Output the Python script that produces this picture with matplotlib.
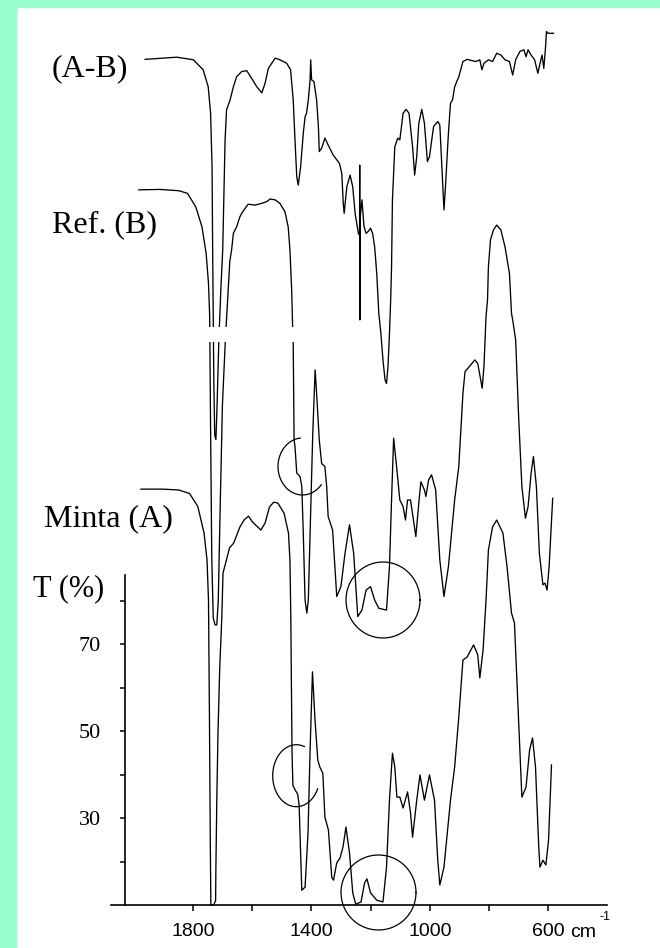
import matplotlib
matplotlib.use("Agg")
import matplotlib.pyplot as plt
from matplotlib.patches import Rectangle
import numpy as np

# ---------------- data (wavenumber cm^-1, transmittance on the common stacked scale) -------------
minta_wn = [1975, 1900, 1847, 1811, 1783, 1762, 1752, 1747, 1744, 1741, 1739, 1730, 1723, 1722, 1719,
            1715, 1709, 1702, 1698, 1676, 1662, 1641, 1627, 1612, 1598, 1570, 1556, 1541, 1527, 1513,
            1492, 1477, 1472, 1469, 1467, 1465, 1462, 1455, 1446, 1441, 1437, 1432, 1421, 1411, 1404,
            1396, 1388, 1378, 1371, 1361, 1354, 1342, 1331, 1325, 1314, 1303, 1293, 1283, 1271, 1260,
            1250, 1232, 1220, 1212, 1200, 1179, 1158, 1146, 1136, 1126, 1118, 1111, 1101, 1090, 1075,
            1065, 1058, 1044, 1033, 1018, 1001, 984, 973, 966, 952, 930, 916, 902, 888, 874, 852, 838,
            831, 820, 810, 802, 788, 774, 753, 739, 724, 714, 703, 689, 675, 663, 653, 643, 632, 628,
            618, 608, 599, 589]
minta_T = [105.6, 105.6, 105.4, 104.6, 101.6, 95.5, 89.3, 80.1, 55.0, 25.0, 10.0, 10.0, 11.0, 18.7, 34.1,
           49.5, 64.7, 76.2, 86.3, 92.1, 93.2, 96.9, 98.5, 99.4, 98.0, 96.2, 97.8, 101.5, 102.6, 102.4,
           100.1, 95.5, 89.3, 75.5, 60.0, 45.0, 37.5, 36.5, 35.5, 33.0, 24.0, 13.4, 14.1, 26.6, 45.6,
           63.6, 53.2, 43.3, 41.7, 40.3, 30.2, 27.2, 16.4, 15.7, 19.7, 20.8, 23.3, 27.9, 22.0, 12.8,
           10.2, 10.7, 15.1, 16.0, 12.8, 11.1, 10.7, 18.7, 34.1, 44.9, 41.7, 34.8, 34.8, 32.3, 36.0,
           31.2, 25.6, 34.1, 39.9, 34.1, 39.9, 34.1, 20.3, 14.6, 18.7, 34.1, 41.7, 53.2, 66.3, 67.0, 69.8, 67.5,
           62.2, 68.6, 80.1, 91.6, 96.9, 98.5, 95.5, 87.7, 77.1, 74.8, 57.1, 34.8, 37.1, 45.6, 48.4, 41.7, 23.3, 18.7,
           20.3, 19.2, 24.9, 42.2]

ref_wn = [1982, 1911, 1847, 1818, 1790, 1769, 1755, 1747, 1743, 1740, 1736, 1731, 1725, 1719, 1714,
          1708, 1700, 1690, 1680, 1675, 1669, 1663, 1652, 1641, 1635, 1624, 1613, 1590, 1567, 1550,
          1539, 1522, 1506, 1489, 1478, 1472, 1466, 1463, 1461, 1458, 1455, 1449, 1438, 1432, 1427,
          1421, 1415, 1410, 1404, 1395, 1387, 1382, 1373, 1365, 1354, 1348, 1343, 1328, 1314, 1300,
          1286, 1271, 1257, 1243, 1229, 1215, 1200, 1186, 1172, 1146, 1136, 1129, 1122, 1112, 1101,
          1090, 1082, 1075, 1065, 1055, 1047, 1037, 1030, 1018, 1013, 1004, 994, 980, 966, 952, 937,
          916, 902, 888, 881, 866, 848, 838, 823, 817, 810, 805, 802, 795, 785, 774, 760, 746, 731,
          724, 720, 710, 700, 689, 677, 668, 658, 650, 640, 630, 618, 611, 604, 597, 585]
ref_T = [174.4, 174.5, 174.2, 173.6, 170.5, 165.9, 159.8, 152.9, 145.3, 120.0, 90.0, 76.0, 74.4, 74.4, 80.0,
         100.0, 125.0, 140.0, 152.0, 158.0, 160.6, 164.4, 165.9, 168.2, 169.0, 170.1, 171.1, 170.9, 171.3, 171.7,
         172.3, 172.1, 171.3, 169.4, 165.9, 160.6, 151.0, 142.9, 139.1, 116.9, 115.4, 109.3, 108.5, 106.2, 95.5,
         80.1, 77.1, 80.1, 95.5, 118.4, 133.0, 127.6, 116.9, 111.5, 110.8, 106.2, 99.3, 96.2, 80.9, 83.2,
         90.9, 97.4, 90.9, 76.3, 77.8, 82.4, 83.2, 80.1, 78.2, 77.8, 87.8, 103.1, 117.3, 110.8, 103.1,
         101.6, 98.5, 103.1, 103.1, 98.5, 94.7, 102.4, 107.3, 105.4, 103.9, 107.7, 108.9, 105.4, 89.3, 80.9, 87.8,
         103.1, 110.8, 127.6, 132.6, 133.8, 135.3, 134.5, 128.8, 133.8, 145.3, 149.1, 156.7, 162.9, 165.2, 166.3, 165.2, 161.3, 155.2,
         146.0, 144.5, 139.9, 122.3, 106.2, 98.9, 101.6, 109.2, 113.1, 106.2, 90.9, 83.6, 84.0, 82.4, 87.8, 103.5]

ab_wn = [1961, 1854, 1798, 1765, 1748, 1740, 1735, 1733, 1729, 1726, 1722, 1718, 1712, 1705, 1699,
         1691, 1686, 1674, 1663, 1652, 1635, 1618, 1601, 1584, 1567, 1556, 1545, 1522, 1506, 1483,
         1470, 1461, 1455, 1449, 1444, 1436, 1427, 1421, 1416, 1410, 1404, 1402, 1399, 1391, 1382,
         1376, 1373, 1365, 1354, 1343, 1326, 1314, 1305, 1297, 1292, 1289, 1280, 1269, 1260, 1252,
         1241, 1237, 1236.5, 1236, 1235, 1229, 1222, 1215, 1207, 1200, 1193, 1186, 1179, 1172, 1165,
         1158, 1151, 1146, 1141, 1136, 1132, 1129, 1126, 1118, 1108, 1101, 1090, 1080, 1070, 1058,
         1051, 1044, 1037, 1027, 1018, 1008, 1001, 987, 973, 966, 959, 952, 947, 937, 930, 923, 916,
         902, 888, 874, 845, 831, 824, 817, 802, 788, 774, 760, 746, 731, 720, 710, 696, 682, 675,
         668, 658, 646, 635, 629, 621, 615, 609, 606, 601, 582]
ab_T = [204.4, 204.9, 204.3, 202.0, 198.1, 192.1, 179.7, 160.6, 130.0, 118.0, 117.0, 125.0, 140.0, 152.0, 160.6,
        185.9, 192.8, 195.1, 198.1, 200.4, 201.6, 201.8, 200.0, 198.1, 196.7, 198.9, 202.3, 204.7, 204.3, 203.5,
        202.0, 195.1, 185.9, 177.4, 175.5, 179.7, 187.4, 191.2, 192.0, 195.1, 199.7, 204.3, 199.7, 199.3, 195.1,
        189.0, 183.2, 184.0, 186.3, 184.7, 182.4, 181.3, 180.5, 178.2, 171.3, 169.0, 175.1, 177.8, 175.1, 169.0,
        164.4, 164.0, 180.1, 144.5, 168.0, 172.1, 166.0, 164.4, 164.9, 165.6, 164.4, 161.3, 155.2, 146.0, 141.4,
        135.3, 130.7, 129.9, 133.8, 141.4, 149.1, 156.7, 172.1, 184.3, 186.3, 185.9, 192.0, 192.9, 192.0, 184.3,
        177.8, 182.0, 189.7, 192.9, 189.7, 180.9, 182.0, 189.0, 190.1, 189.3, 179.7, 169.8, 175.1, 187.4, 194.3, 195.1, 198.1,
        200.4, 203.9, 204.4, 203.9, 204.3, 202.0, 203.5, 204.3, 203.9, 205.8, 205.4, 204.3, 203.9, 200.8, 204.3, 206.2, 206.6, 205.0,
        206.6, 205.4, 204.3, 201.2, 203.1, 205.4, 202.3, 207.3, 210.8, 210.4, 210.4]

x_major = [1800, 1400, 1000, 600]
x_major_labels = ["1800", "1400", "1000", "600"]
x_minor = [1600, 1200, 800]
y_major = [30, 50, 70]
y_minor = [20, 40, 60, 80]

# ---------------- figure ----------------
W, H = 660, 948
fig = plt.figure(figsize=(W / 100, H / 100), dpi=100)
fig.patch.set_facecolor("white")
green = "#99ffcc"
fig.patches.append(Rectangle((0, 0), 16 / W, 1, transform=fig.transFigure, color=green, zorder=0))
fig.patches.append(Rectangle((0, 1 - 7 / H), 1, 7 / H, transform=fig.transFigure, color=green, zorder=0))

ax = fig.add_axes([0, 0, 1, 1])
ax.set_facecolor("none")

# pixel <-> data calibration of the scanned chart
px_per_wn = 0.2962
px_per_T = 4.35
def wn_at(xpx):
    return 1800 - (np.asarray(xpx) - 192.8) / px_per_wn
def T_at(ypx):
    return 10 + (905 - np.asarray(ypx)) / px_per_T

ax.set_xlim(wn_at(0), wn_at(W))
ax.set_ylim(T_at(H), T_at(0))

lw = 0.95
for wn, T in [(minta_wn, minta_T), (ref_wn, ref_T), (ab_wn, ab_T)]:
    ax.plot(wn, T, color="black", lw=lw, solid_joinstyle="round", zorder=3)

# scanning gap across the carbonyl band lines
ax.add_patch(Rectangle((wn_at(300), T_at(342)), wn_at(195) - wn_at(300), T_at(327) - T_at(342),
                       color="white", zorder=4, lw=0))

# hand-drawn circles marking the changed regions (screen-space ellipses)
def ring(cx, cy, rx, ry, a1=0, a2=360):
    phi = np.radians(np.linspace(a1, a2, 160))
    ax.plot(wn_at(cx + rx * np.cos(phi)), T_at(cy - ry * np.sin(phi)),
            color="black", lw=0.9, zorder=5)

ring(302.5, 466.5, 24.5, 28.5, 95, 320)
ring(296.3, 775.7, 23.6, 31.0, 70, 335)
ring(383.0, 600.0, 37.0, 38.0)
ring(378.5, 892.5, 37.5, 37.5)

# axes
for s in ["top", "right"]:
    ax.spines[s].set_visible(False)
ax.spines["left"].set_position(("data", float(wn_at(125.4))))
ax.spines["left"].set_bounds(10, float(T_at(575)))
ax.spines["bottom"].set_position(("data", 10))
ax.spines["bottom"].set_bounds(float(wn_at(607)), float(wn_at(111.5)))
for s in ["left", "bottom"]:
    ax.spines[s].set_linewidth(1.2)

ax.set_xticks(x_major)
ax.set_xticklabels(x_major_labels)
ax.set_xticks(x_minor, minor=True)
ax.set_yticks(y_major)
ax.set_yticklabels([str(v) for v in y_major])
ax.set_yticks(y_minor, minor=True)
ax.tick_params(axis="x", which="both", direction="out", length=4, width=1.1, pad=9)
ax.tick_params(axis="y", which="both", direction="out", length=3.5, width=1.1, pad=14)
sans = ["Liberation Sans", "DejaVu Sans"]
for lab in ax.get_xticklabels():
    lab.set_fontfamily(sans)
    lab.set_fontsize(14)
for lab in ax.get_yticklabels():
    lab.set_fontfamily(["Liberation Serif", "DejaVu Serif"])
    lab.set_fontsize(16)

def ftext(xpx, ypx, s, **kw):
    fig.text(xpx / W, 1 - ypx / H, s, **kw)

serif = ["Liberation Serif", "DejaVu Serif"]
ftext(52, 69, "(A-B)", family=serif, fontsize=23, va="center", ha="left")
ftext(52, 225, "Ref. (B)", family=serif, fontsize=23, va="center", ha="left")
ftext(44, 519, "Minta (A)", family=serif, fontsize=23, va="center", ha="left")
ftext(33, 589, "T (%)", family=serif, fontsize=22, va="center", ha="left")
ftext(570, 937, "cm", family=sans, fontsize=14, va="baseline", ha="left")
ftext(599, 917, "-1", family=sans, fontsize=9, va="center", ha="left")

fig.savefig("out.png", dpi=100, facecolor=fig.get_facecolor())
